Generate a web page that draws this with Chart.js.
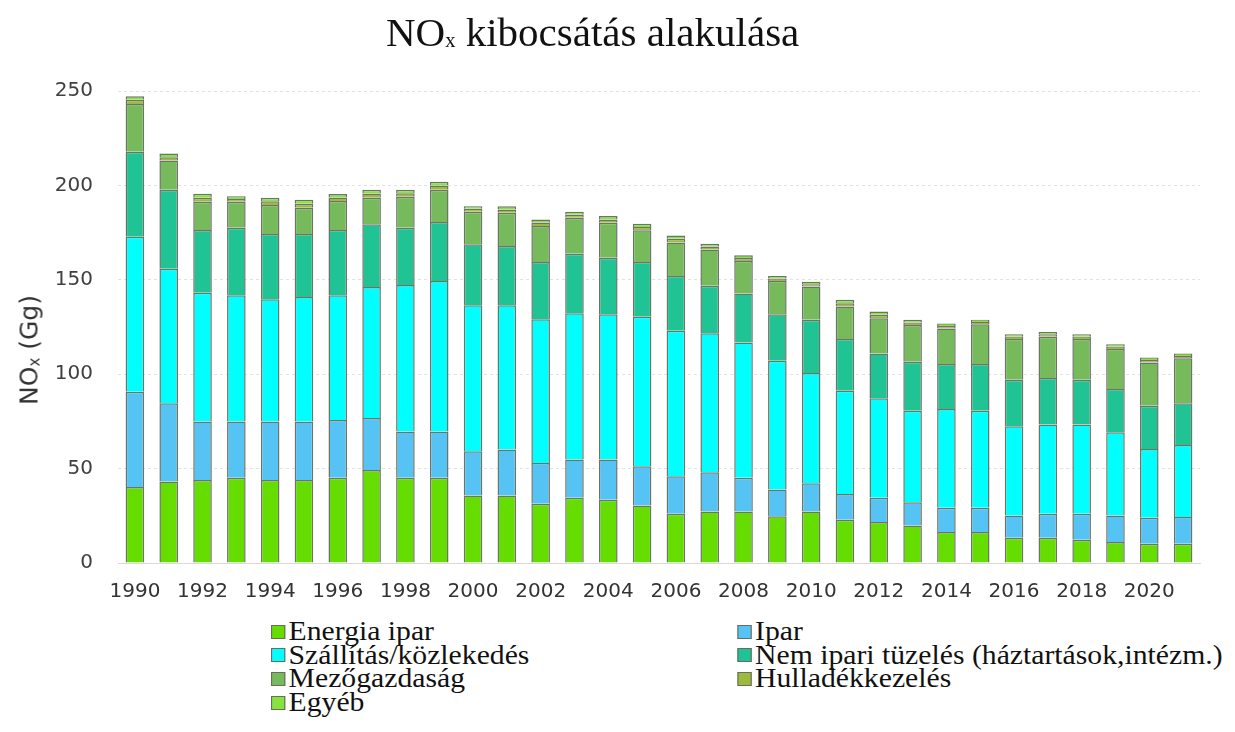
<!DOCTYPE html>
<html>
<head>
<meta charset="utf-8">
<script src="https://cdn.jsdelivr.net/npm/chart.js@4.4.1/dist/chart.umd.min.js"></script>
<style>
    body { margin: 0; background: #fff; }
    #wrap { position: relative; width: 1235px; height: 732px; overflow: hidden; }
    #noxChart { position: absolute; left: 0; top: 0; }
    #title {
        position: absolute; left: 386px; top: 12px;
        font-family: "Liberation Serif", serif; font-size: 41px; line-height: 41px; color: #111;
        white-space: nowrap;
    }
    #title sub { font-size: 0.5em; vertical-align: -0.05em; }
    #ylabel {
        position: absolute; left: 29px; top: 350px;
        transform: translate(-50%, -50%) rotate(-90deg);
        font-family: "DejaVu Sans", sans-serif; font-size: 25px; color: #333; white-space: nowrap;
    }
    #ylabel sub { font-size: 0.6em; vertical-align: -0.1em; }
    #legend {
        position: absolute; left: 271px; top: 620px;
        transform: scaleX(1.1); transform-origin: 0 0;
        display: grid; grid-template-columns: 424px auto;
        font-family: "Liberation Serif", serif; font-size: 27px; line-height: 23.6px; color: #111;
    }
    .item { display: flex; align-items: center; white-space: nowrap; }
    .box { width: 11px; height: 12px; border: 1px solid #6b6b60; margin-right: 3px; flex: none; }
</style>
</head>
<body>
<div id="wrap">
    <canvas id="noxChart" width="1235" height="610"></canvas>
    <div id="title">NO<sub>x</sub> kibocsátás alakulása</div>
    <div id="ylabel">NO<sub>x</sub> (Gg)</div>
    <div id="legend"></div>
</div>
<script>
// adatok – NOx kibocsátás ágazatonként (Gg)
const years = [1990, 1991, 1992, 1993, 1994, 1995, 1996, 1997, 1998, 1999, 2000, 2001, 2002, 2003, 2004, 2005,
               2006, 2007, 2008, 2009, 2010, 2011, 2012, 2013, 2014, 2015, 2016, 2017, 2018, 2019, 2020, 2021];

const energiaIpar = [40.2, 43.2, 44.0, 45.1, 44.0, 44.0, 45.1, 49.3, 45.1, 45.1, 35.8, 35.8, 31.4, 34.5, 33.5, 30.5,
                     26.1, 27.3, 27.3, 24.7, 27.3, 22.9, 21.7, 19.9, 16.4, 16.4, 13.4, 13.4, 12.3, 11.1, 10.2, 10.2];
const ipar = [50.5, 41.4, 30.9, 29.8, 30.9, 30.9, 30.7, 27.5, 24.5, 24.5, 23.4, 24.3, 21.5, 20.3, 21.3, 20.8,
              19.9, 20.8, 17.8, 14.2, 15.0, 13.7, 12.8, 12.3, 12.8, 12.8, 11.8, 12.7, 13.8, 14.1, 13.8, 14.1];
const szallitas = [82.1, 71.3, 68.3, 66.9, 64.8, 66.0, 66.0, 69.4, 77.7, 79.8, 77.3, 76.4, 76.2, 77.5, 77.0, 79.1,
                   77.0, 73.6, 71.7, 68.2, 58.3, 54.7, 52.7, 48.5, 52.4, 51.5, 47.2, 47.2, 47.2, 44.0, 36.4, 38.2];
const nemIpariTuzeles = [45.0, 41.8, 33.2, 35.8, 34.5, 33.3, 34.6, 33.2, 30.3, 31.2, 32.3, 31.4, 30.3, 31.5, 29.9, 29.0,
                         29.0, 25.1, 25.9, 24.7, 28.2, 27.3, 23.8, 25.9, 23.8, 24.7, 24.7, 24.7, 23.8, 22.9, 22.9, 22.1];
const mezogazdasag = [25.3, 15.5, 14.9, 13.7, 15.4, 14.0, 15.3, 14.0, 16.4, 17.1, 17.2, 17.6, 19.1, 19.1, 18.5, 16.8,
                      17.7, 19.3, 17.3, 17.6, 17.6, 17.2, 18.7, 19.5, 18.8, 21.1, 21.5, 21.8, 21.6, 21.2, 22.9, 23.9];
const hulladek = [2.3, 1.7, 2.1, 1.5, 2.0, 2.1, 1.9, 2.3, 1.9, 2.2, 1.6, 1.8, 1.8, 1.6, 1.8, 1.8,
                  2.0, 1.5, 1.5, 1.3, 1.3, 1.8, 1.8, 1.3, 1.3, 1.2, 1.3, 1.3, 1.2, 1.3, 1.3, 1.2];
const egyeb = [1.8, 2.0, 2.2, 1.5, 1.8, 2.1, 1.8, 2.0, 1.8, 2.0, 1.4, 1.7, 1.7, 1.5, 1.8, 1.7,
               1.8, 1.5, 1.5, 1.3, 1.3, 1.8, 1.7, 1.4, 1.3, 1.1, 1.3, 1.3, 1.3, 1.3, 1.4, 1.3];

const yTicks = [0, 50, 100, 150, 200, 250];

const series = [
    { label: 'Energia ipar', data: energiaIpar, color: '#66dd00' },
    { label: 'Ipar', data: ipar, color: '#55c3f3' },
    { label: 'Szállítás/közlekedés', data: szallitas, color: '#00ffff' },
    { label: 'Nem ipari tüzelés (háztartások,intézm.)', data: nemIpariTuzeles, color: '#20c393' },
    { label: 'Mezőgazdaság', data: mezogazdasag, color: '#76ba5c' },
    { label: 'Hulladékkezelés', data: hulladek, color: '#9bba3e' },
    { label: 'Egyéb', data: egyeb, color: '#86e43e' }
];

const tickFont = { family: 'DejaVu Sans', size: 20 };

const chart = new Chart(document.getElementById('noxChart').getContext('2d'), {
    type: 'bar',
    data: {
        labels: years,
        datasets: series.map(s => ({
            label: s.label,
            data: s.data,
            backgroundColor: s.color,
            borderColor: '#6b7466',
            borderWidth: 1.5,
            categoryPercentage: 1,
            barPercentage: 0.55
        }))
    },
    options: {
        responsive: false,
        animation: false,
        devicePixelRatio: 1,
        layout: { padding: { top: 91, left: 0, right: 35, bottom: 0 } },
        plugins: {
            legend: { display: false },
            tooltip: { enabled: false }
        },
        scales: {
            x: {
                stacked: true,
                grid: { display: false },
                border: { display: true, color: '#d9d9d9' },
                ticks: {
                    autoSkip: false,
                    maxRotation: 0,
                    padding: 9,
                    color: '#333',
                    font: tickFont,
                    callback: function (value, index) {
                        return index % 2 === 0 ? this.getLabelForValue(value) : '';
                    }
                },
                afterFit: scale => { scale.height = 47; }
            },
            y: {
                stacked: true,
                min: 0,
                max: 250,
                afterBuildTicks: scale => { scale.ticks = yTicks.map(v => ({ value: v })); },
                grid: { color: '#e2e2e2', drawTicks: false },
                border: { display: false, dash: [3, 3] },
                ticks: { padding: 25, color: '#404040', font: tickFont },
                afterFit: scale => { scale.width = 118; }
            }
        }
    }
});

// legenda – dva sloupce jako v originále
const legendEl = document.getElementById('legend');
series.forEach(s => {
    const item = document.createElement('div');
    item.className = 'item';
    const box = document.createElement('span');
    box.className = 'box';
    box.style.background = s.color;
    item.appendChild(box);
    item.appendChild(document.createTextNode(s.label));
    legendEl.appendChild(item);
});
</script>
</body>
</html>
